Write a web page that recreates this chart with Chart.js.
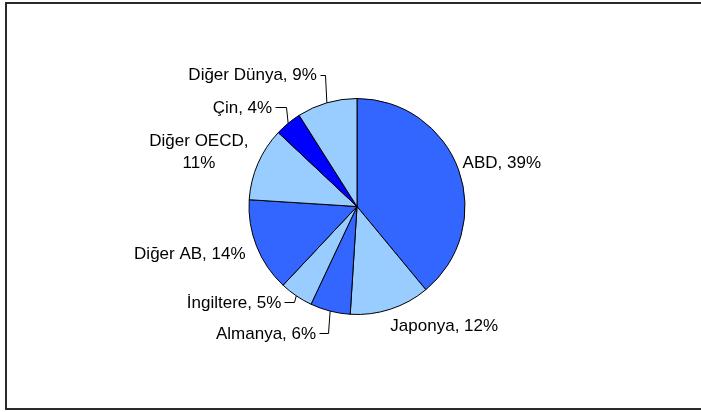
<!DOCTYPE html>
<html>
<head>
<meta charset="utf-8">
<script src="https://cdn.jsdelivr.net/npm/chart.js@4/dist/chart.umd.min.js"></script>
<style>
	html, body { margin: 0; padding: 0; background: #fff; }
	canvas { display: block; }
</style>
</head>
<body>
<canvas id="myChart" width="701" height="412"></canvas>
<script>
const regions = ["ABD", "Japonya", "Almanya", "İngiltere", "Diğer AB", "Diğer OECD", "Çin", "Diğer Dünya"];
const shares = [39, 12, 6, 5, 14, 11, 4, 9];
const sliceColors = ["#3366FF", "#99CCFF", "#3366FF", "#99CCFF", "#3366FF", "#99CCFF", "#0000FF", "#99CCFF"];

// label placement relative to the outer midpoint of each slice
const labelLayout = [
	{ dx: 4, dy: -7, align: "left", leader: false },
	{ dx: 0, dy: 17, align: "left", leader: false },
	{ dx: -14, dy: 23, align: "right", leader: true },
	{ dx: -15, dy: 7, align: "right", leader: true },
	{ dx: -11, dy: 8, align: "right", leader: false },
	{ dx: -59, dy: -11, align: "center", leader: false, wrap: true },
	{ dx: -16, dy: -15, align: "right", leader: true },
	{ dx: -10, dy: -27, align: "right", leader: true },
];

const FONT = "17px 'Liberation Sans', Arial, sans-serif";

const framePlugin = {
	id: "frame",
	beforeDraw: (chart) => {
		const ctx = chart.ctx;
		ctx.save();
		ctx.fillStyle = "#ffffff";
		ctx.fillRect(0, 0, chart.width, chart.height);
		ctx.strokeStyle = "#2a2a2a";
		ctx.lineWidth = 2;
		ctx.strokeRect(6, 3, 700, 406);
		ctx.restore();
	},
};

const labelPlugin = {
	id: "sliceLabels",
	afterDatasetsDraw: (chart) => {
		const ctx = chart.ctx;
		const meta = chart.getDatasetMeta(0);
		ctx.save();
		ctx.font = FONT;
		ctx.fillStyle = "#000000";
		ctx.strokeStyle = "#000000";
		ctx.lineWidth = 1;
		ctx.textBaseline = "middle";

		meta.data.forEach((arc, i) => {
			const mid = (arc.startAngle + arc.endAngle) / 2;
			const px = arc.x + Math.cos(mid) * arc.outerRadius;
			const py = arc.y + Math.sin(mid) * arc.outerRadius;
			const lay = labelLayout[i];
			const tx = px + lay.dx;
			const ty = py + lay.dy;

			ctx.textAlign = lay.align;
			if (lay.wrap) {
				ctx.fillText(regions[i] + ",", tx, ty - 11);
				ctx.fillText(shares[i] + "%", tx, ty + 11);
			} else {
				ctx.fillText(regions[i] + ", " + shares[i] + "%", tx, ty);
			}

			// leader line: short horizontal run from the text, then to the slice edge
			if (lay.leader) {
				const gap = lay.align === "right" ? 3 : -3;
				const lineY = Math.round(ty - 1) + 0.5;
				const kneeX = px - 2;
				ctx.beginPath();
				ctx.moveTo(Math.round(tx + gap) + 0.5, lineY);
				ctx.lineTo(Math.round(kneeX) + 0.5, lineY);
				ctx.lineTo(px, py);
				ctx.stroke();
			}
		});
		ctx.restore();
	},
};

const initChart = () => {
	const canvas = document.getElementById("myChart");
	return new Chart(canvas, {
		type: "pie",
		data: {
			labels: regions,
			datasets: [
				{
					data: shares,
					backgroundColor: sliceColors,
					borderColor: "#000000",
					borderWidth: 1,
					borderAlign: "center",
				},
			],
		},
		options: {
			responsive: false,
			animation: false,
			layout: {
				padding: { top: 98, bottom: 97, left: 13, right: 0 },
			},
			plugins: {
				legend: { display: false },
				tooltip: { enabled: false },
			},
		},
		plugins: [framePlugin, labelPlugin],
	});
};

window.onload = () => {
	initChart();
};
</script>
</body>
</html>
